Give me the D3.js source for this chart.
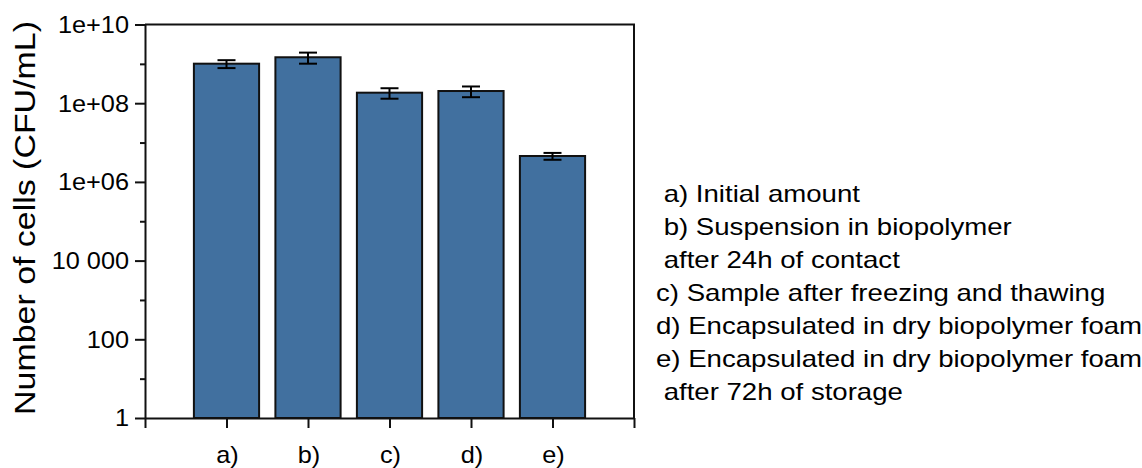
<!DOCTYPE html>
<html lang="en">

<head>
  <meta charset="utf-8">
  <title>Cell counts</title>
  <script src="https://d3js.org/d3.v7.min.js"></script>
  <style>
    body { margin: 0; background: white; }
    text { font-family: "Liberation Sans", Arial, sans-serif; fill: #000; }
    .legend text { white-space: pre; }
  </style>
</head>

<body>
  <div id="chart"></div>
  <script>
    // data
    var categories = ['a)', 'b)', 'c)', 'd)', 'e)'];
    var cellCounts = [1.01e9, 1.47e9, 1.85e8, 2.04e8, 4.55e6];
    var cellErrors = [2.3e8, 4.6e8, 5.5e7, 6.2e7, 9.0e5];
    var yTickValues = [1, 1e2, 1e4, 1e6, 1e8, 1e10];
    var yTickLabels = ['1', '100', '10 000', '1e+06', '1e+08', '1e+10'];
    var yMinorValues = [10, 1e3, 1e5, 1e7, 1e9];
    var legendLines = [
      ' a) Initial amount',
      ' b) Suspension in biopolymer',
      ' after 24h of contact',
      'c) Sample after freezing and thawing',
      'd) Encapsulated in dry biopolymer foam',
      'e) Encapsulated in dry biopolymer foam',
      ' after 72h of storage'
    ];

    var w = 1142, h = 468;
    var plotL = 145, plotR = 634, plotT = 24.5, plotB = 418;

    var svg = d3.select('#chart').append('svg')
      .attr('width', w)
      .attr('height', h);

    // x is a linear position scale: 0 and 6 are the frame ends
    var x = d3.scaleLinear().domain([0, categories.length + 1]).range([plotL, plotR]);
    var y = d3.scaleLog().domain([1, 1e10]).range([plotB, plotT]);
    var barWidth = (x(1) - x(0)) * 0.8;

    // bars
    svg.selectAll('rect.bar')
      .data(cellCounts)
      .enter().append('rect')
      .attr('class', 'bar')
      .attr('x', function (d, i) { return x(i + 1) - barWidth / 2; })
      .attr('y', function (d) { return y(d); })
      .attr('width', barWidth)
      .attr('height', function (d) { return y(1) - y(d); })
      .style('fill', '#41709f')
      .style('stroke', '#111')
      .style('stroke-width', 2);

    // error bars
    var err = svg.selectAll('g.err')
      .data(cellCounts)
      .enter().append('g')
      .attr('class', 'err')
      .style('stroke', '#000')
      .style('stroke-width', 2);
    err.append('line')
      .attr('x1', function (d, i) { return x(i + 1); })
      .attr('x2', function (d, i) { return x(i + 1); })
      .attr('y1', function (d, i) { return y(d + cellErrors[i]); })
      .attr('y2', function (d, i) { return y(d - cellErrors[i]); });
    [1, -1].forEach(function (s) {
      err.append('line')
        .attr('x1', function (d, i) { return x(i + 1) - 9; })
        .attr('x2', function (d, i) { return x(i + 1) + 9; })
        .attr('y1', function (d, i) { return y(d + s * cellErrors[i]); })
        .attr('y2', function (d, i) { return y(d + s * cellErrors[i]); });
    });

    // frame (top, right)
    svg.append('path')
      .attr('d', 'M' + plotL + ',' + plotT + 'H' + plotR + 'V' + plotB)
      .style('fill', 'none')
      .style('stroke', '#111')
      .style('stroke-width', 2);

    // y axis: major + minor ticks
    svg.append('g')
      .attr('transform', 'translate(' + plotL + ',0)')
      .call(d3.axisLeft(y).tickValues(yTickValues).tickFormat('').tickSize(10).tickSizeOuter(0));
    svg.append('g')
      .attr('transform', 'translate(' + plotL + ',0)')
      .call(d3.axisLeft(y).tickValues(yMinorValues).tickFormat('').tickSize(5).tickSizeOuter(0))
      .select('.domain').remove();

    // x axis
    svg.append('g')
      .attr('transform', 'translate(0,' + plotB + ')')
      .call(d3.axisBottom(x).tickValues(d3.range(0, categories.length + 2)).tickFormat('').tickSize(10).tickSizeOuter(0));

    svg.selectAll('.domain, .tick line')
      .style('stroke', '#111')
      .style('stroke-width', 2);

    // y tick labels
    svg.selectAll('text.ylab')
      .data(yTickValues)
      .enter().append('text')
      .attr('class', 'ylab')
      .attr('transform', function (d) { return 'translate(129,' + (y(d) + 8.3) + ') scale(1.1,1)'; })
      .attr('text-anchor', 'end')
      .style('font-size', '23px')
      .text(function (d, i) { return yTickLabels[i]; });

    // x tick labels
    svg.selectAll('text.xlab')
      .data(categories)
      .enter().append('text')
      .attr('class', 'xlab')
      .attr('transform', function (d, i) { return 'translate(' + (x(i + 1) + 1) + ',463) scale(1.1,1)'; })
      .attr('text-anchor', 'middle')
      .style('font-size', '23px')
      .text(function (d) { return d; });

    // y axis title
    svg.append('text')
      .attr('transform', 'translate(35,218) rotate(-90) scale(1.17,1)')
      .attr('text-anchor', 'middle')
      .style('font-size', '29px')
      .text('Number of cells (CFU/mL)');

    // legend text
    svg.append('g').attr('class', 'legend')
      .selectAll('text')
      .data(legendLines)
      .enter().append('text')
      .attr('transform', function (d, i) { return 'translate(656,' + (202 + i * 33) + ') scale(1.2,1)'; })
      .style('font-size', '23px')
      .text(function (d) { return d; });
  </script>
</body>

</html>
